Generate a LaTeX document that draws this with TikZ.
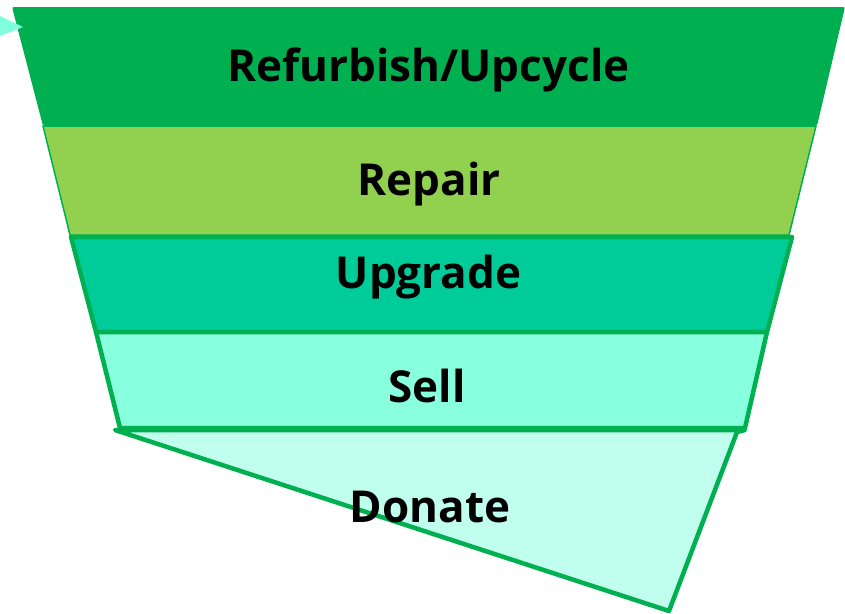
\documentclass[tikz,border=0pt]{standalone}
\usepackage{fontspec}
\setmainfont{Open Sans}
\definecolor{dkgreen}{HTML}{00B050}
\definecolor{ltgreen}{HTML}{92D050}
\definecolor{upg}{HTML}{00CC99}
\definecolor{sellc}{HTML}{88FFDD}
\definecolor{donc}{HTML}{C0FFEE}
\definecolor{arrc}{HTML}{80FFDF}
\begin{document}
\begin{tikzpicture}[x=1pt,y=-1pt,
  band/.style={draw=dkgreen,line width=4.5pt,line join=round},
  lbl/.style={font=\bfseries\fontsize{44}{50}\selectfont,text=black,inner sep=0pt,anchor=base}]
\useasboundingbox (0,0) rectangle (845,613);
% Refurbish
\fill[dkgreen,rounded corners=2pt] (12,7) -- (845,7) -- (817,126) -- (43,126) -- cycle;
% Repair
\filldraw[fill=ltgreen,draw=dkgreen,line width=1.5pt] (43,126) -- (816,126) -- (789,235) -- (70,235) -- cycle;
% Upgrade
\filldraw[band,fill=upg] (71,237) -- (792,237) -- (767,332) -- (96,332) -- cycle;
% Sell
\filldraw[band,fill=sellc] (96,332) -- (767,332) -- (745,428) -- (120,428) -- cycle;
% Donate
\filldraw[band,fill=donc] (115,430) -- (745,430) -- (737,432) -- (669,611) -- cycle;
% arrow tip
\fill[arrc] (0,16) -- (23,27) -- (0,36) -- cycle;
% labels
\node[lbl] (t1) at (428.5,81) {Refurbish/Upcycle};
\node[lbl] (t2) at (429,195) {Repair};
\node[lbl] (t3) at (428.5,288) {Upgrade};
\node[lbl] (t4) at (427,402) {Sell};
\node[lbl] (t5) at (430,522) {Donate};
\end{tikzpicture}
\end{document}
